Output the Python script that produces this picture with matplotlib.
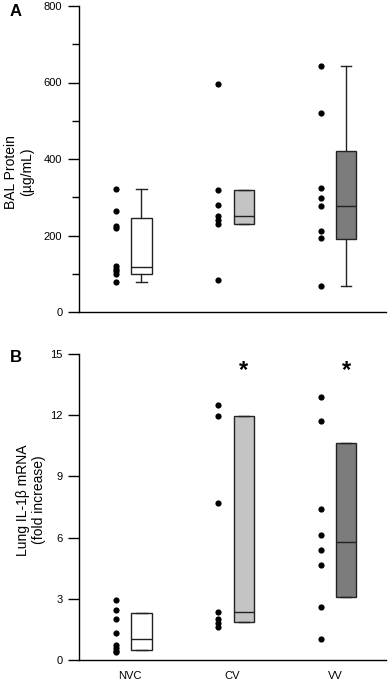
import numpy as np
import matplotlib
matplotlib.use("Agg")
import matplotlib.pyplot as plt

plt.rcParams['font.family'] = ['Liberation Sans', 'DejaVu Sans']

groups = ["NVC", "CV", "VV"]
box_colors = ["white", "#c4c4c4", "#7c7c7c"]

# Panel A - BAL protein (ug/mL)
prot_points = [
    [321, 265, 226, 220, 119, 112, 106, 99, 78],
    [595, 318, 280, 252, 241, 230, 84],
    [644, 521, 325, 299, 278, 211, 193, 69],
]
prot_q1 = [100, 230, 192]
prot_med = [117, 252, 278]
prot_q3 = [245, 318, 422]
prot_lo = [78, 230, 69]
prot_hi = [321, 318, 644]

# Panel B - lung IL-1b mRNA (fold increase)
il_points = [
    [2.95, 2.45, 2.0, 1.3, 0.75, 0.6, 0.45, 0.4],
    [12.5, 11.94, 7.68, 2.37, 1.99, 1.83, 1.63],
    [12.88, 11.72, 7.42, 6.13, 5.41, 4.64, 2.6, 1.01],
]
il_q1 = [0.49, 1.88, 3.10]
il_med = [1.01, 2.37, 5.77]
il_q3 = [2.32, 11.94, 10.62]
signif = ["", "*", "*"]

pos = np.arange(1, len(groups) + 1)
dot_off = -0.14
box_off = 0.11

fig = plt.figure(figsize=(3.88, 6.82), dpi=100)
axA = fig.add_axes([79 / 388, 1 - 312 / 682, 307 / 388, 306 / 682])
axB = fig.add_axes([79 / 388, 1 - 660 / 682, 307 / 388, 306 / 682])


def draw_panel(ax, points, q1, med, q3, lo, hi):
    for i, pts in enumerate(points):
        ax.scatter(np.full(len(pts), pos[i] + dot_off), pts, s=20,
                   color="black", zorder=3, linewidths=0)
    stats = []
    for i in range(len(points)):
        stats.append(dict(med=med[i], q1=q1[i], q3=q3[i],
                          whislo=lo[i], whishi=hi[i], fliers=[]))
    bp = ax.bxp(stats, positions=pos + box_off, widths=0.2,
                patch_artist=True, showfliers=False, capwidths=0.1,
                boxprops=dict(linewidth=1.0, edgecolor="#222222"),
                medianprops=dict(color="#222222", linewidth=1.0),
                whiskerprops=dict(color="#222222", linewidth=1.0),
                capprops=dict(color="#222222", linewidth=1.0))
    for patch, c in zip(bp["boxes"], box_colors):
        patch.set_facecolor(c)
    ax.set_xlim(0.5, 3.5)
    for s in ["top", "right"]:
        ax.spines[s].set_visible(False)
    ax.spines["left"].set_linewidth(1.0)
    ax.spines["bottom"].set_linewidth(1.0)
    ax.tick_params(axis="y", which="major", direction="out", length=8,
                   width=1.0, labelsize=8, pad=4)
    ax.tick_params(axis="y", which="minor", direction="out", length=5,
                   width=1.0)


draw_panel(axA, prot_points, prot_q1, prot_med, prot_q3, prot_lo, prot_hi)
axA.set_ylim(0, 800)
axA.set_yticks([0, 200, 400, 600, 800])
axA.set_yticks([100, 300, 500, 700], minor=True)
axA.set_xticks([])

draw_panel(axB, il_points, il_q1, il_med, il_q3, il_q1, il_q3)
axB.set_ylim(0, 15)
axB.set_yticks([0, 3, 6, 9, 12, 15])
axB.set_xticks(pos)
axB.set_xticklabels(groups, fontsize=8)
axB.tick_params(axis="x", length=0, pad=8)
for i, s in enumerate(signif):
    if s:
        axB.text(pos[i] + box_off, 14.2, s, ha="center", va="center",
                 fontsize=17, fontweight="bold")

fig.text(10 / 388, 1 - 12 / 682, "A", fontsize=12, fontweight="bold",
         ha="left", va="center")
fig.text(10 / 388, 1 - 358 / 682, "B", fontsize=12, fontweight="bold",
         ha="left", va="center")
fig.text(19 / 388, 1 - 172 / 682, "BAL Protein\n(\u00b5g/mL)", rotation=90,
         ha="center", va="center", fontsize=10, multialignment="center")
fig.text(31 / 388, 1 - 500 / 682, "Lung IL-1\u03b2 mRNA\n(fold increase)",
         rotation=90, ha="center", va="center", fontsize=10,
         multialignment="center")

fig.savefig("out.png", dpi=100)
